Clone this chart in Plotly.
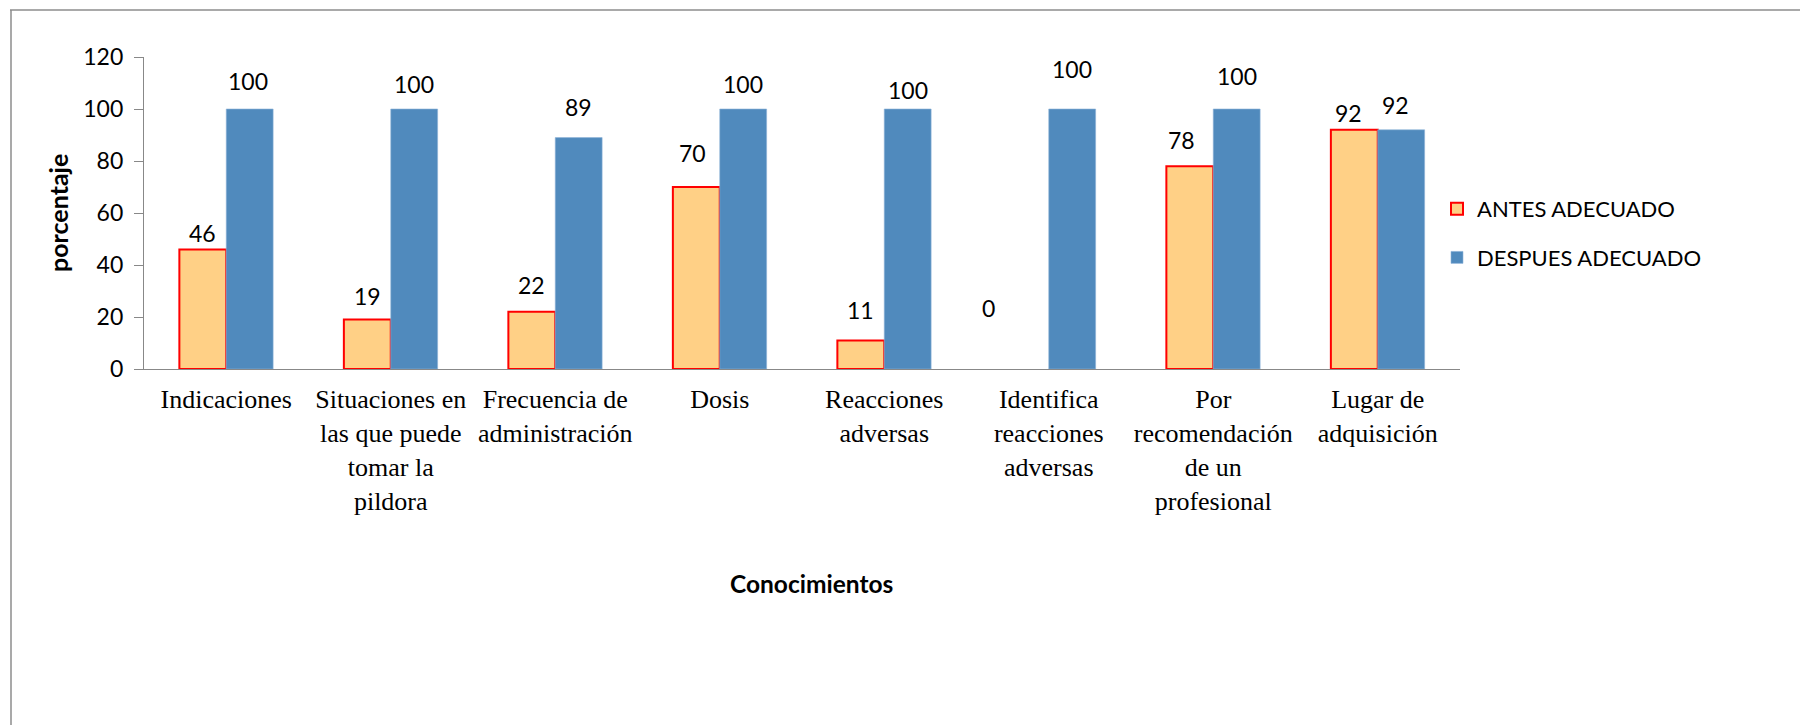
import plotly.graph_objects as go

categories = ["Indicaciones", "Situaciones", "Frecuencia", "Dosis", "Reacciones",
              "Identifica", "Por recomendacion", "Lugar"]
tick_labels = ["Indicaciones",
               "Situaciones en<br>las que puede<br>tomar la<br>pildora",
               "Frecuencia de<br>administración",
               "Dosis",
               "Reacciones<br>adversas",
               "Identifica<br>reacciones<br>adversas",
               "Por<br>recomendación<br>de un<br>profesional",
               "Lugar de<br>adquisición"]
antes = [46, 19, 22, 70, 11, 0, 78, 92]
despues = [100, 100, 89, 100, 100, 100, 100, 92]
y_ticks = [0, 20, 40, 60, 80, 100, 120]

# label placement tweaks (pixels) for the data labels
antes_dx = [0, 0, 0, -4, 0, -37, -8, -6]
antes_dy = [16, 24, 27, 34, 30, 61, 26, 17]
despues_dx = [-2, 0, 0, 0, 0, 0, 0, -6]
despues_dy = [28, 25, 31, 25, 19, 40, 33, 25]

W, H = 1800, 725
L, R, T, B = 144, 340, 57, 356
BARGAP = 0.43
plot_w = W - L - R
plot_h = H - T - B
cat_w = plot_w / len(categories)
bar_half = (1 - BARGAP) * cat_w / 4

FONT = "Lato"
SERIF = "Liberation Serif"

fig = go.Figure()
fig.add_trace(go.Bar(
    x=categories, y=antes, name="ANTES ADECUADO",
    marker=dict(color="#FFD086",
                line=dict(color="#FF0000", width=[2 if v > 0 else 0 for v in antes])),
    legendgroup="a",
))
fig.add_trace(go.Bar(
    x=categories, y=despues, name="DESPUES ADECUADO",
    marker=dict(color="#508ABD", line=dict(color="#8FB3D9", width=0.6)),
    legendgroup="b",
))

ann = []
for i, c in enumerate(categories):
    ann.append(dict(x=c, y=antes[i], xref="x", yref="y", text=str(antes[i]),
                    showarrow=False, xshift=-bar_half + antes_dx[i], yshift=antes_dy[i],
                    yanchor="middle", xanchor="center",
                    font=dict(family=FONT, size=23, color="#000000")))
    ann.append(dict(x=c, y=despues[i], xref="x", yref="y", text=str(despues[i]),
                    showarrow=False, xshift=bar_half + despues_dx[i], yshift=despues_dy[i],
                    yanchor="middle", xanchor="center",
                    font=dict(family=FONT, size=23, color="#000000")))

# axis titles
ann.append(dict(x=(811 - L) / plot_w, y=1 - (583 - T) / plot_h, xref="paper", yref="paper",
                text="<b>Conocimientos</b>", showarrow=False, xanchor="center", yanchor="middle",
                font=dict(family=FONT, size=24.5, color="#000000")))
ann.append(dict(x=(58 - L) / plot_w, y=1 - (213 - T) / plot_h, xref="paper", yref="paper",
                text="<b>porcentaje</b>", showarrow=False, textangle=-90,
                xanchor="center", yanchor="middle",
                font=dict(family=FONT, size=25, color="#000000")))

shapes = [
    dict(type="line", xref="paper", yref="paper",
         x0=(10 - L) / plot_w, x1=(W + 20 - L) / plot_w,
         y0=1 + (T - 10) / plot_h, y1=1 + (T - 10) / plot_h,
         line=dict(color="#8C8C8C", width=1.5)),
    dict(type="line", xref="paper", yref="paper",
         x0=(11 - L) / plot_w, x1=(11 - L) / plot_w,
         y0=1 + (T - 10) / plot_h, y1=-(B + 20) / plot_h,
         line=dict(color="#8C8C8C", width=1.5)),
]

fig.update_layout(
    width=W, height=H,
    margin=dict(l=L, r=R, t=T, b=B, autoexpand=False),
    paper_bgcolor="white", plot_bgcolor="white",
    barmode="group", bargap=BARGAP, bargroupgap=0,
    showlegend=True,
    legend=dict(x=(1437 - L) / plot_w, y=1 - (233.5 - T) / plot_h,
                xanchor="left", yanchor="middle",
                traceorder="grouped", tracegroupgap=17,
                font=dict(family=FONT, size=22, color="#000000"),
                bgcolor="rgba(0,0,0,0)"),
    annotations=ann,
    shapes=shapes,
    font=dict(family=FONT, color="#000000"),
)
fig.update_xaxes(
    type="category", tickmode="array", tickvals=categories, ticktext=tick_labels,
    showline=True, linecolor="#888888", linewidth=1.3, ticks="",
    showgrid=False, zeroline=False,
    tickfont=dict(family=SERIF, size=26, color="#000000"),
    ticklabelstandoff=7,
)
fig.update_yaxes(
    range=[0, 120], tickmode="array", tickvals=y_ticks,
    showline=True, linecolor="#888888", linewidth=1.3,
    ticks="outside", ticklen=9, tickcolor="#888888", tickwidth=1.3,
    showgrid=False, zeroline=False,
    tickfont=dict(family=FONT, size=23, color="#000000"),
    ticklabelstandoff=6,
)

fig.write_html("out.html", config={"displayModeBar": False},
               post_script="document.body.style.margin='0';")
